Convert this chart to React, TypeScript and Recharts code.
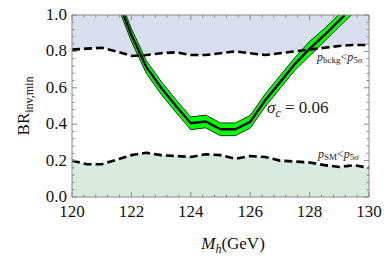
import { Area, ComposedChart, Line, ReferenceLine, XAxis, YAxis } from 'recharts';

// grid of masses for the exclusion boundaries
const masses = [120, 120.5, 121, 121.5, 122, 122.5, 123, 123.5, 124, 124.5, 125, 125.5, 126, 126.5, 127, 127.5, 128, 128.5, 129, 129.5, 130];
// p_bckg < p_5sigma boundary (upper dashed)
const bckgLimit = [0.81, 0.815, 0.82, 0.80, 0.775, 0.78, 0.79, 0.795, 0.78, 0.78, 0.79, 0.80, 0.79, 0.78, 0.79, 0.80, 0.81, 0.82, 0.83, 0.835, 0.835];
// p_SM < p_5sigma boundary (lower dashed)
const smLimit = [0.20, 0.18, 0.18, 0.205, 0.23, 0.243, 0.23, 0.225, 0.22, 0.235, 0.23, 0.21, 0.225, 0.22, 0.20, 0.195, 0.19, 0.175, 0.165, 0.175, 0.16];

// sigma_c = 0.06 curve with its band
const bandMasses = [121.5, 122, 122.5, 123, 123.5, 124, 124.5, 125, 125.5, 126, 126.5, 127, 127.5, 128, 128.5, 129, 129.5];
const bandCenter = [1.10, 0.89, 0.715, 0.60, 0.50, 0.405, 0.415, 0.372, 0.372, 0.413, 0.53, 0.63, 0.73, 0.815, 0.89, 0.97, 1.05];
const bandLow = [1.065, 0.855, 0.68, 0.565, 0.465, 0.37, 0.38, 0.337, 0.337, 0.378, 0.495, 0.595, 0.695, 0.775, 0.855, 0.935, 1.015];
const bandHigh = [1.135, 0.925, 0.75, 0.635, 0.535, 0.44, 0.45, 0.407, 0.407, 0.448, 0.565, 0.665, 0.765, 0.855, 0.925, 1.005, 1.085];

const xMajor = [120, 122, 124, 126, 128, 130];
const yMajor = [0, 0.2, 0.4, 0.6, 0.8, 1.0];
const xTicks = Array.from({ length: 26 }, (_, i) => 120 + i * 0.4);
const yTicks = Array.from({ length: 26 }, (_, i) => i * 0.04);

const W = 391;
const H = 258;
const PLOT_W = 297;
const PLOT_H = 182;
const FRAME = '#8a8a8a';
const SERIF = '"Liberation Serif", "DejaVu Serif", serif';

const data = masses.map((m, i) => {
  const j = bandMasses.indexOf(m);
  return {
    m,
    bckg: bckgLimit[i],
    sm: smLimit[i],
    topRange: [bckgLimit[i], 1],
    band: j >= 0 ? [bandLow[j], bandHigh[j]] : null,
    center: j >= 0 ? bandCenter[j] : null,
  };
});

const near = (v: number, list: number[]) => list.some((t) => Math.abs(t - v) < 1e-6);

// eslint-disable-next-line @typescript-eslint/no-explicit-any
function XTick(props: any) {
  const { x, y, payload } = props;
  const v = payload.value;
  const major = near(v, xMajor);
  const len = major ? 5 : 2.5;
  return (
    <g>
      <line x1={x} y1={y} x2={x} y2={y - len} stroke={FRAME} />
      <line x1={x} y1={y - PLOT_H} x2={x} y2={y - PLOT_H + len} stroke={FRAME} />
      {major && (
        <text x={x} y={y + 20} textAnchor="middle" fontFamily={SERIF} fontSize={17} fill="#111">
          {Math.round(v)}
        </text>
      )}
    </g>
  );
}

// eslint-disable-next-line @typescript-eslint/no-explicit-any
function YTick(props: any) {
  const { x, y, payload } = props;
  const v = payload.value;
  const major = near(v, yMajor);
  const len = major ? 5 : 2.5;
  return (
    <g>
      <line x1={x} y1={y} x2={x + len} y2={y} stroke={FRAME} />
      <line x1={x + PLOT_W} y1={y} x2={x + PLOT_W - len} y2={y} stroke={FRAME} />
      {major && (
        <text x={x - 5} y={y + 5} textAnchor="end" fontFamily={SERIF} fontSize={17} fill="#111">
          {v.toFixed(1)}
        </text>
      )}
    </g>
  );
}

export default function App() {
  return (
    <div style={{ position: 'absolute', left: 0, top: 0, width: W, height: H, background: '#fff' }}>
      <ComposedChart width={W} height={H} data={data} margin={{ top: 15, right: 22, left: 0, bottom: 31 }}>
        <XAxis
          dataKey="m"
          type="number"
          domain={[120, 130]}
          allowDataOverflow
          ticks={xTicks}
          interval={0}
          tick={<XTick />}
          tickSize={0}
          tickMargin={0}
          tickLine={false}
          height={30}
          axisLine={{ stroke: FRAME }}
        />
        <YAxis
          type="number"
          domain={[0, 1]}
          allowDataOverflow
          ticks={yTicks}
          interval={0}
          tick={<YTick />}
          tickSize={0}
          tickMargin={0}
          tickLine={false}
          width={72}
          axisLine={{ stroke: FRAME }}
        />
        <Area type="linear" dataKey="topRange" stroke="none" fill="#d9deee" fillOpacity={1} isAnimationActive={false} />
        <Area type="linear" dataKey="sm" baseValue={0} stroke="none" fill="#d8eadd" fillOpacity={1} isAnimationActive={false} />
        <Line type="linear" dataKey="bckg" stroke="#000" strokeWidth={2.6} strokeDasharray="8 4" dot={false} isAnimationActive={false} />
        <Line type="linear" dataKey="sm" stroke="#000" strokeWidth={2.6} strokeDasharray="8 4" dot={false} isAnimationActive={false} />
        <Area type="linear" dataKey="band" stroke="#000" strokeWidth={0.8} fill="#00ff00" fillOpacity={1} isAnimationActive={false} />
        <Line type="linear" dataKey="center" stroke="#000" strokeWidth={2.5} dot={false} isAnimationActive={false} />
        <ReferenceLine y={1} stroke={FRAME} />
        <ReferenceLine x={130} stroke={FRAME} />
      </ComposedChart>
      <svg width={W} height={H} style={{ position: 'absolute', left: 0, top: 0, pointerEvents: 'none' }}>
        <text
          x={29}
          y={106}
          transform="rotate(-90 29 106)"
          textAnchor="middle"
          fontFamily={SERIF}
          fontSize={17}
          fill="#111"
        >
          BR<tspan fontSize={12} dy={4}>inv,min</tspan>
        </text>
        <text x={233} y={249} textAnchor="middle" fontFamily={SERIF} fontSize={17} fill="#111">
          <tspan fontStyle="italic">M</tspan>
          <tspan fontStyle="italic" fontSize={12} dy={4}>h</tspan>
          <tspan dy={-4}>(GeV)</tspan>
        </text>
        <text x={267} y={113} fontFamily={SERIF} fontSize={17} fill="#222">
          <tspan fontStyle="italic">σ</tspan>
          <tspan fontStyle="italic" fontSize={12} dy={4}>c</tspan>
          <tspan dy={-4}> = 0.06</tspan>
        </text>
        <text x={317} y={61} fontFamily={SERIF} fontSize={12} fill="#222">
          <tspan fontStyle="italic">p</tspan>
          <tspan fontSize={9} dy={2}>bckg</tspan>
          <tspan dy={-2}>&lt;</tspan>
          <tspan fontStyle="italic">p</tspan>
          <tspan fontSize={9} dy={2}>5</tspan>
          <tspan fontSize={9} fontStyle="italic">σ</tspan>
        </text>
        <text x={318} y={158} fontFamily={SERIF} fontSize={12} fill="#222">
          <tspan fontStyle="italic">p</tspan>
          <tspan fontSize={9} dy={2}>SM</tspan>
          <tspan dy={-2}>&lt;</tspan>
          <tspan fontStyle="italic">p</tspan>
          <tspan fontSize={9} dy={2}>5</tspan>
          <tspan fontSize={9} fontStyle="italic">σ</tspan>
        </text>
      </svg>
    </div>
  );
}
